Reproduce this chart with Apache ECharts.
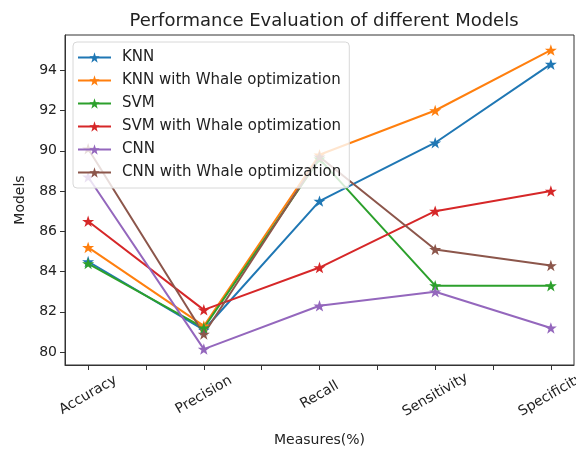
<!DOCTYPE html>
<html>
<head>
<meta charset="utf-8">
<script src="https://cdn.jsdelivr.net/npm/echarts@6/dist/echarts.min.js"></script>
<style>
  html, body { margin: 0; padding: 0; background: #ffffff; }
  #chart { width: 576px; height: 452px; }
</style>
</head>
<body>
<div id="chart"></div>
<script>
// Evaluation measures along the x axis
const measures = ['Accuracy', 'Precision', 'Recall', 'Sensitivity', 'Specificity'];

// Scores (%) per model for each measure
const knn      = [84.5, 81.1, 87.5, 90.4, 94.3];
const knnWhale = [85.2, 81.3, 89.8, 92.0, 95.0];
const svm      = [84.4, 81.2, 89.6, 83.3, 83.3];
const svmWhale = [86.5, 82.1, 84.2, 87.0, 88.0];
const cnn      = [88.7, 80.15, 82.3, 83.0, 81.2];
const cnnWhale = [90.1, 80.9, 89.7, 85.1, 84.3];

const modelNames = ['KNN', 'KNN with Whale optimization', 'SVM',
  'SVM with Whale optimization', 'CNN', 'CNN with Whale optimization'];
const modelScores = [knn, knnWhale, svm, svmWhale, cnn, cnnWhale];

// Tick values
const yTicks = [80, 82, 84, 86, 88, 90, 92, 94];
const xTicks = [0, 0.5, 1, 1.5, 2, 2.5, 3, 3.5, 4];
const xLabelTicks = [0, 1, 2, 3, 4];

const colors = ['#1f77b4', '#ff7f0e', '#2ca02c', '#d62728', '#9467bd', '#8c564b'];
const star = 'path://M50,0 L61.8,35.3 L98.1,35.3 L68.8,57.1 L79.4,91.9 L50,70.7 L20.6,91.9 L31.2,57.1 L1.9,35.3 L38.2,35.3 Z';
const font = 'DejaVu Sans';

const series = modelNames.map((name, k) => ({
  name: name,
  type: 'line',
  data: modelScores[k].map((v, i) => [i, v]),
  symbol: star,
  symbolSize: 12,
  symbolKeepAspect: true,
  showAllSymbol: true,
  lineStyle: { width: 2, color: colors[k] },
  itemStyle: { color: colors[k], borderWidth: 0 },
  emphasis: { disabled: true },
  animation: false
}));

const chart = echarts.init(document.getElementById('chart'), null, { renderer: 'canvas' });
chart.setOption({
  animation: false,
  backgroundColor: '#ffffff',
  title: {
    text: 'Performance Evaluation of different Models',
    left: 319, top: 7, textAlign: 'center',
    textStyle: { fontFamily: font, fontSize: 18, fontWeight: 'normal', color: '#222' }
  },
  grid: {
    left: 65, right: 2, top: 35, bottom: 87,
    outerBoundsMode: 'none',
    show: true, borderColor: '#333', borderWidth: 1, backgroundColor: 'transparent'
  },
  legend: {
    orient: 'vertical',
    left: 73, top: 42,
    padding: [8, 8, 8, 4],
    itemWidth: 33, itemHeight: 13, itemGap: 8,
    backgroundColor: 'rgba(255,255,255,0.8)',
    borderColor: '#d8d8d8', borderWidth: 1, borderRadius: 4,
    textStyle: { fontFamily: font, fontSize: 15, color: '#222', padding: [0, 0, 0, 6] },
    data: modelNames
  },
  xAxis: {
    type: 'value', min: -0.2, max: 4.2,
    name: 'Measures(%)', nameLocation: 'middle', nameGap: 68,
    nameTextStyle: { fontFamily: font, fontSize: 14, color: '#222' },
    axisLine: { show: true, onZero: false, lineStyle: { color: '#333', width: 1 } },
    axisTick: { show: true, length: 5, lineStyle: { color: '#333' }, customValues: xTicks },
    axisLabel: {
      customValues: xLabelTicks,
      formatter: v => measures[Math.round(v)],
      rotate: 30, margin: 30, align: 'center', verticalAlign: 'middle',
      fontFamily: font, fontSize: 14, color: '#222'
    },
    splitLine: { show: false }
  },
  yAxis: {
    type: 'value', min: 79.36, max: 95.75,
    name: 'Models', nameLocation: 'middle', nameGap: 38,
    nameTextStyle: { fontFamily: font, fontSize: 14, color: '#222' },
    axisLine: { show: true, onZero: false, lineStyle: { color: '#333', width: 1 } },
    axisTick: { show: true, length: 5, lineStyle: { color: '#333' }, customValues: yTicks },
    axisLabel: { customValues: yTicks, margin: 8, fontFamily: font, fontSize: 14, color: '#222' },
    splitLine: { show: false }
  },
  series: series
});
</script>
</body>
</html>
